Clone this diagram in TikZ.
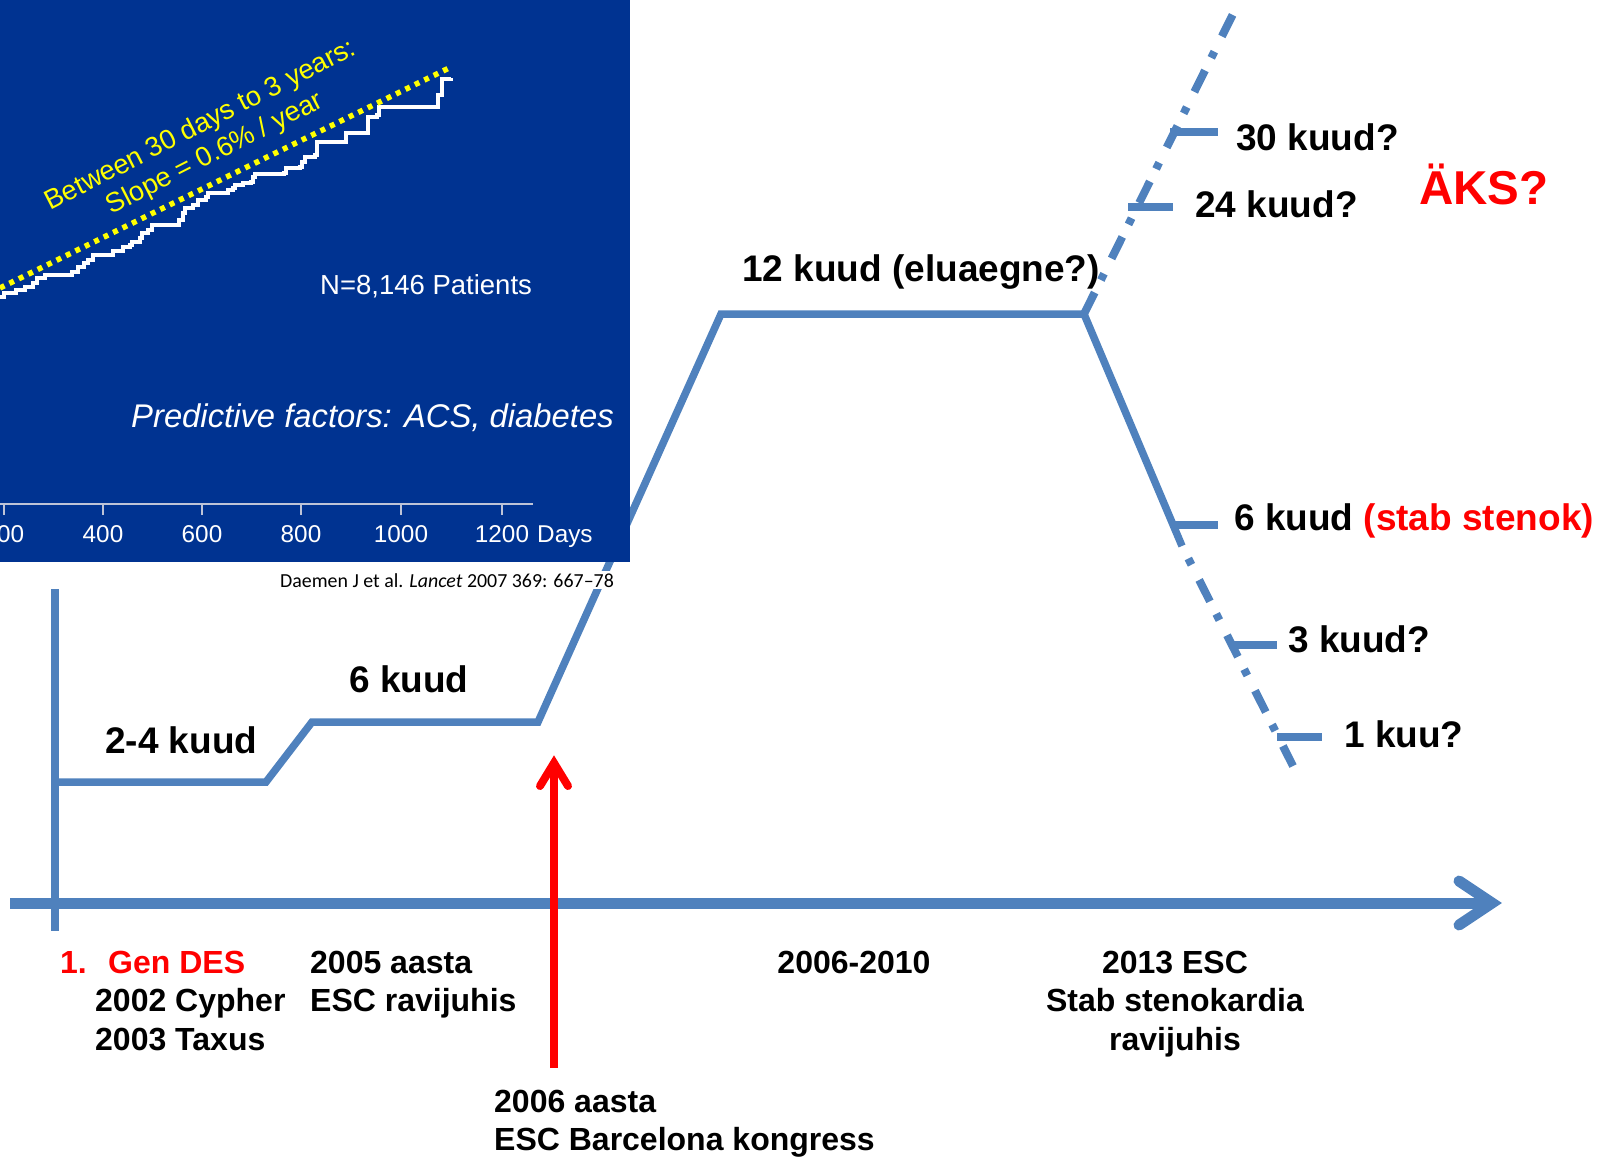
\documentclass[tikz,border=0pt]{standalone}
\usepackage{fontspec}
\setmainfont{Liberation Sans}
\newfontfamily\citefont{Carlito}
\definecolor{panelblue}{RGB}{0,51,145}
\definecolor{steel}{RGB}{79,129,189}
\definecolor{hotred}{RGB}{255,0,0}
\definecolor{slideyellow}{RGB}{255,255,0}
\definecolor{axisgray}{RGB}{190,196,215}
\newcommand\fsz[1]{\fontsize{#1}{#1}\selectfont}

\begin{document}
\begin{tikzpicture}[x=1pt,y=-1pt,
  lbl/.style={inner sep=0pt,anchor=base west,font=\bfseries\fsz{37}},
  yearlbl/.style={inner sep=0pt,anchor=base west,font=\bfseries\fsz{32}},
  yearmid/.style={inner sep=0pt,anchor=base,font=\bfseries\fsz{32}},
  ticklbl/.style={inner sep=0pt,anchor=base,text=white,font=\fsz{24.3}},
  trend/.style={steel,line width=7.5pt},
  dashdot/.style={steel,line width=8pt,dash pattern=on 24pt off 14pt on 7pt off 17pt},
  stub/.style={steel,line width=8pt},
  timeaxis/.style={steel,line width=11pt},
  redline/.style={hotred,line width=8pt}]

\useasboundingbox (0,0) rectangle (1608,1157);

% ---- course of the recommended duration ----
\coordinate (A) at (59,782);
\coordinate (B) at (266,782);
\coordinate (C) at (312,722);
\coordinate (D) at (538,722);
\coordinate (E) at (721,314);
\coordinate (F) at (1084,314);
\coordinate (G) at (1182,546);
\coordinate (H) at (1293,766);
\coordinate (T) at (1234,12);

\draw[trend] (A) -- (B) -- (C) -- (D) -- (E) -- (F) -- (G);
\draw[dashdot] (F) -- (T);
\draw[dashdot,dash phase=24pt] (G) -- (H);

% side stubs
\coordinate (s30a) at (1170,132); \coordinate (s30b) at (1218,132);
\coordinate (s24a) at (1128,207); \coordinate (s24b) at (1173,207);
\coordinate (s6a)  at (1172,525); \coordinate (s6b)  at (1218,525);
\coordinate (s3a)  at (1230,645); \coordinate (s3b)  at (1277,645);
\coordinate (s1a)  at (1277,737); \coordinate (s1b)  at (1322,737);
\foreach \s in {s30,s24,s6,s3,s1}{\draw[stub] (\s a) -- (\s b);}

% ---- data panel ----
\fill[panelblue] (0,0) rectangle (630,562);
\begin{scope}
  \clip (0,0) rectangle (630,562);
  % time axis of the panel
  \coordinate (pa0) at (0,504);
  \coordinate (pa1) at (533,504);
  \draw[axisgray,line width=2pt] (pa0) -- (pa1);
  \foreach \x/\t in {4/200,103/400,202/600,301/800,401/1000,502/1200}{
    \draw[axisgray,line width=2pt] (\x,504) -- (\x,515);
    \node[ticklbl] (tick\t) at (\x,542) {\t};
  }
  \node[ticklbl,anchor=base west] (days) at (537,542) {Days};
  % event curve
  \draw[white,line width=3.5pt,line join=miter]
    (0,297) -| (4,293) -| (16,290) -| (25,287) -| (33,283) -| (37,278) -| (45,275)
    -| (70,275) -| (72,272) -| (78,267) -| (84,263) -| (88,260) -| (93,255)
    -| (111,255) -| (113,251) -| (123,250) -| (123,247) -| (130,245) -| (132,242)
    -| (140,238) -| (142,233) -| (148,230) -| (152,225) -| (177,225) -| (179,220)
    -| (183,213) -| (185,208) -| (193,205) -| (198,200) -| (206,197) -| (208,193)
    -| (226,193) -| (228,190) -| (233,188) -| (235,185) -| (243,183) -| (251,182)
    -| (253,177) -| (255,174) -| (284,173) -| (286,168) -| (300,167) -| (302,162)
    -| (305,157) -| (315,155) -| (317,142) -| (346,142) -| (346,133) -| (368,133)
    -| (368,117) -| (377,115) -| (379,107) -| (438,107) -| (438,95) -| (442,94)
    -| (442,79) -| (451,78);
  % fitted slope
  \coordinate (fit0) at (0,288);
  \coordinate (fit1) at (451,67);
  \draw[slideyellow,line width=5.5pt,dash pattern=on 5pt off 5.5pt] (fit0) -- (fit1);
  \node[inner sep=0pt,text=slideyellow,align=center,rotate=27,
        font=\fontsize{27.3}{31.5}\selectfont] (slope) at (208,140)
        {Between 30 days to 3 years:\\Slope = 0.6\% / year};
  \node[inner sep=0pt,anchor=base west,text=white,font=\fsz{27.5}] (npat) at (320,294) {N=8,146 Patients};
  \node[inner sep=0pt,anchor=base west,text=white,font=\itshape\fsz{32.8}] (pred) at (131,427)
        {Predictive factors: ACS, diabetes};
\end{scope}
\node[inner sep=2pt,fill=white,anchor=base east,font=\citefont\fsz{19.9}] (cite) at (616,587)
      {Daemen J et al. \textit{Lancet} 2007 369: 667–78};

% ---- time line ----
\coordinate (v0) at (55,589);
\coordinate (v1) at (55,931);
\draw[steel,line width=8pt] (v0) -- (v1);
\coordinate (ax0) at (10,903);
\coordinate (ax1) at (1490,903);
\coordinate (axtip) at (1492,903);
\coordinate (axup) at (1459,881);
\coordinate (axdn) at (1459,925);
\draw[timeaxis] (ax0) -- (ax1);
\draw[timeaxis,line cap=round,line join=miter] (axup) -- (axtip) -- (axdn);

% ---- 2006 marker ----
\coordinate (r0) at (554,1068);
\coordinate (r1) at (554,762);
\coordinate (rtip) at (554,763);
\coordinate (rl) at (540,786);
\coordinate (rr) at (568,786);
\draw[redline] (r0) -- (r1);
\draw[redline,line cap=round,line join=miter] (rl) -- (rtip) -- (rr);

% ---- duration labels ----
\node[lbl] (d24) at (105,753) {2-4 kuud};
\node[lbl] (d6) at (349,692) {6 kuud};
\node[lbl] (d12) at (742,281) {12 kuud (eluaegne?)};
\node[lbl] (q30) at (1236,150) {30 kuud?};
\node[lbl] (q24) at (1195,217) {24 kuud?};
\node[inner sep=0pt,anchor=base west,text=hotred,font=\bfseries\fsz{47.5}] (aks) at (1419,204) {ÄKS?};
\node[lbl] (q6) at (1234,530) {6 kuud \textcolor{hotred}{(stab stenok)}};
\node[lbl] (q3) at (1288,652) {3 kuud?};
\node[lbl] (q1) at (1344,747) {1 kuu?};

% ---- dates ----
\node[yearlbl,text=hotred] (gen1) at (60,973) {1.};
\node[yearlbl,text=hotred] (gen2) at (108,973) {Gen DES};
\node[yearlbl] (cyph) at (95,1011.5) {2002 Cypher};
\node[yearlbl] (taxus) at (95,1050) {2003 Taxus};
\node[yearlbl] (y05a) at (310,973) {2005 aasta};
\node[yearlbl] (y05b) at (310,1011.5) {ESC ravijuhis};
\node[yearmid] (y0610) at (854,973) {2006-2010};
\node[yearmid] (y13a) at (1175,973) {2013 ESC};
\node[yearmid] (y13b) at (1175,1011.5) {Stab stenokardia};
\node[yearmid] (y13c) at (1175,1050) {ravijuhis};
\node[yearlbl] (y06a) at (494,1112) {2006 aasta};
\node[yearlbl] (y06b) at (494,1150) {ESC Barcelona kongress};

\end{tikzpicture}
\end{document}
